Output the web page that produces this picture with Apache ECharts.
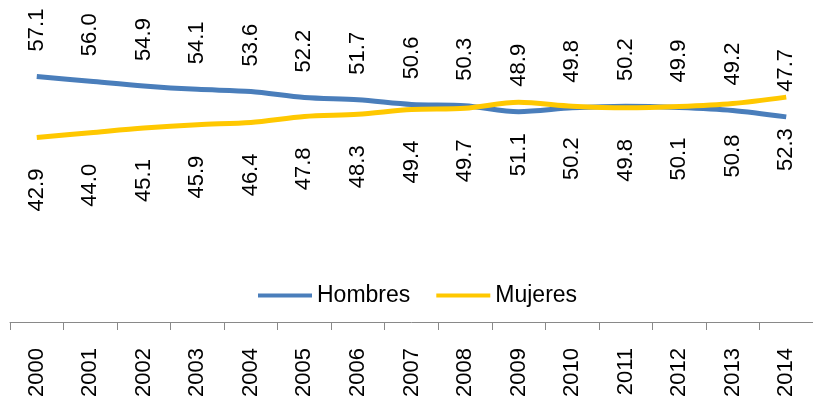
<!DOCTYPE html>
<html>
<head>
<meta charset="utf-8">
<script src="https://cdn.jsdelivr.net/npm/echarts@6/dist/echarts.min.js"></script>
<style>
  html, body { margin: 0; padding: 0; background: #fff; }
  #chart { width: 813px; height: 406px; }
</style>
</head>
<body>
<div id="chart"></div>
<script>
// years on the category axis
var years = ['2000', '2001', '2002', '2003', '2004', '2005', '2006', '2007',
             '2008', '2009', '2010', '2011', '2012', '2013', '2014'];
// percent, men
var hombres = [57.1, 56.0, 54.9, 54.1, 53.6, 52.2, 51.7, 50.6, 50.3, 48.9, 49.8, 50.2, 49.9, 49.2, 47.7];
// percent, women
var mujeres = [42.9, 44.0, 45.1, 45.9, 46.4, 47.8, 48.3, 49.4, 49.7, 51.1, 50.2, 49.8, 50.1, 50.8, 52.3];

var fontFam = '"Liberation Sans", Arial, sans-serif';
var chart = echarts.init(document.getElementById('chart'));

function lbl(pos, dist, align) {
    return {
        show: true,
        position: pos,
        distance: dist,
        rotate: 90,
        align: align,
        verticalAlign: 'middle',
        fontSize: 22,
        color: '#000',
        fontFamily: fontFam,
        formatter: function (p) { return p.value.toFixed(1); }
    };
}

chart.setOption({
    animation: false,
    textStyle: { fontFamily: fontFam },
    grid: { left: 10, right: -8, top: 21, bottom: 84, containLabel: false },
    legend: {
        left: 253,
        top: 279,
        icon: 'rect',
        itemWidth: 54,
        itemHeight: 4,
        itemGap: 26,
        textStyle: { fontSize: 23, color: '#000', fontFamily: fontFam },
        data: ['Hombres', 'Mujeres']
    },
    xAxis: {
        type: 'category',
        data: years,
        boundaryGap: true,
        axisLine: { show: true, lineStyle: { color: '#898989', width: 1 } },
        axisTick: { show: true, length: 8, interval: 0, lineStyle: { color: '#898989' } },
        axisLabel: { rotate: 90, margin: 26, interval: 0, fontSize: 22, color: '#000', fontFamily: fontFam }
    },
    yAxis: {
        type: 'value',
        min: 0,
        max: 70,
        show: false,
        splitLine: { show: false }
    },
    series: [
        {
            name: 'Hombres',
            type: 'line',
            data: hombres,
            smooth: 0.3,
            showSymbol: true,
            symbol: 'circle',
            symbolSize: 0.1,
            color: '#4A7EBB',
            lineStyle: { width: 5, color: '#4A7EBB' },
            label: lbl('top', 25, 'left')
        },
        {
            name: 'Mujeres',
            type: 'line',
            data: mujeres,
            smooth: 0.3,
            showSymbol: true,
            symbol: 'circle',
            symbolSize: 0.1,
            color: '#FFC800',
            lineStyle: { width: 5, color: '#FFC800' },
            label: lbl('bottom', 31, 'right')
        }
    ]
});
</script>
</body>
</html>
